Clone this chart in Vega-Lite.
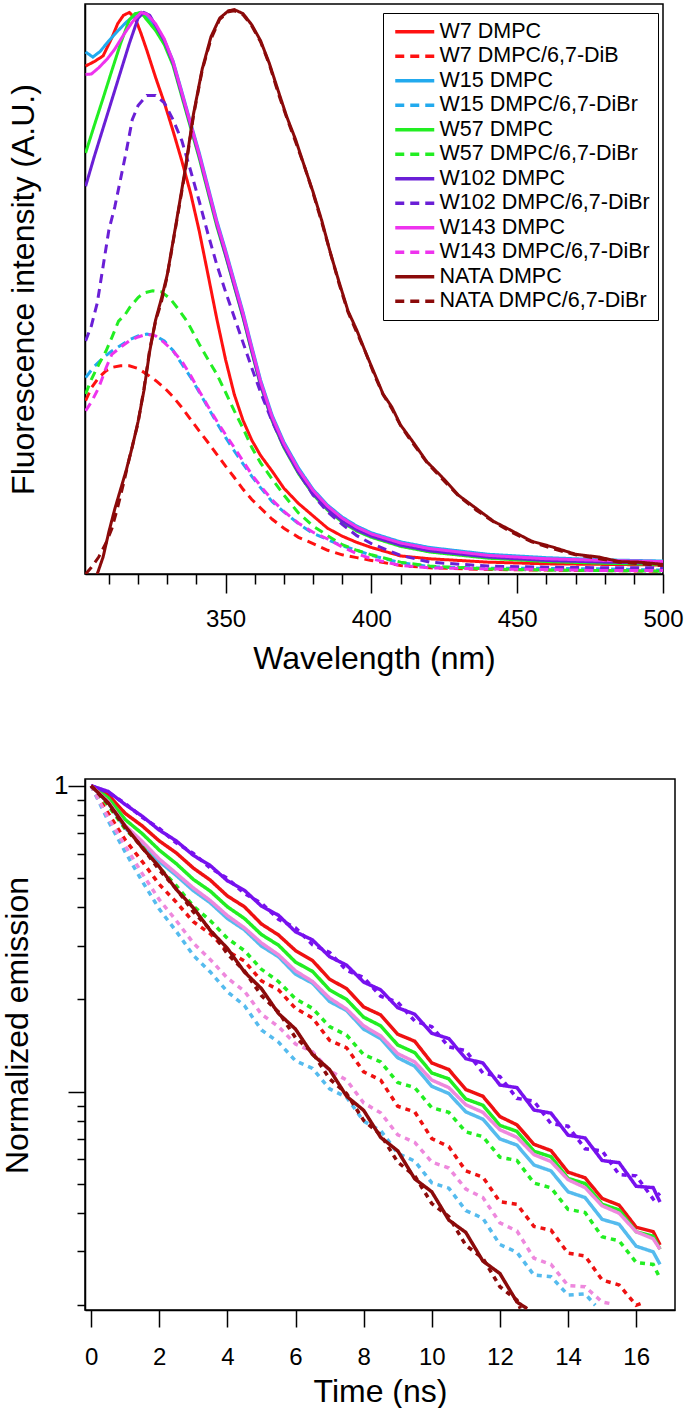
{
"$schema": "https://vega.github.io/schema/vega-lite/v6.json",
"background": "white",
"padding": {"left": 0, "top": 3, "right": 5, "bottom": 2},
"spacing": 96,
"resolve": {"scale": {"color": "independent", "strokeDash": "independent"}},
"config": {
  "font": "Liberation Sans",
  "view": {"stroke": "black", "strokeWidth": 1.5},
  "axis": {"domainColor": "black", "domainWidth": 1.5, "tickColor": "black", "tickWidth": 1.5, "labelColor": "black", "titleColor": "black", "titleFontWeight": "normal", "labelFont": "Liberation Sans", "titleFont": "Liberation Sans", "grid": false, "labelFlush": false, "labelOverlap": false},
  "legend": {"labelFont": "Liberation Sans", "labelColor": "black"}
},
"datasets": {
"spec": [
{"s":"W7 DMPC","x":302,"y":0.9},{"s":"W7 DMPC","x":305,"y":0.908},{"s":"W7 DMPC","x":308,"y":0.918},{"s":"W7 DMPC","x":311,"y":0.95},{"s":"W7 DMPC","x":313,"y":0.975},{"s":"W7 DMPC","x":315,"y":0.99},{"s":"W7 DMPC","x":317,"y":0.995},{"s":"W7 DMPC","x":319,"y":0.985},{"s":"W7 DMPC","x":321,"y":0.958},{"s":"W7 DMPC","x":323,"y":0.928},{"s":"W7 DMPC","x":326,"y":0.88},{"s":"W7 DMPC","x":329,"y":0.835},{"s":"W7 DMPC","x":332,"y":0.785},{"s":"W7 DMPC","x":335,"y":0.732},{"s":"W7 DMPC","x":338,"y":0.675},{"s":"W7 DMPC","x":341,"y":0.607},{"s":"W7 DMPC","x":344,"y":0.53},{"s":"W7 DMPC","x":347,"y":0.452},{"s":"W7 DMPC","x":350,"y":0.38},{"s":"W7 DMPC","x":353,"y":0.318},{"s":"W7 DMPC","x":356,"y":0.272},{"s":"W7 DMPC","x":359,"y":0.237},{"s":"W7 DMPC","x":362,"y":0.21},{"s":"W7 DMPC","x":366,"y":0.182},{"s":"W7 DMPC","x":370,"y":0.152},{"s":"W7 DMPC","x":375,"y":0.125},{"s":"W7 DMPC","x":380,"y":0.103},{"s":"W7 DMPC","x":385,"y":0.081},{"s":"W7 DMPC","x":390,"y":0.067},{"s":"W7 DMPC","x":395,"y":0.056},{"s":"W7 DMPC","x":400,"y":0.047},{"s":"W7 DMPC","x":410,"y":0.032},{"s":"W7 DMPC","x":420,"y":0.027},{"s":"W7 DMPC","x":440,"y":0.021},{"s":"W7 DMPC","x":460,"y":0.018},{"s":"W7 DMPC","x":480,"y":0.017},{"s":"W7 DMPC","x":500,"y":0.016},
{"s":"W7 DMPC/6,7-DiB","x":302,"y":0.307},{"s":"W7 DMPC/6,7-DiB","x":304,"y":0.33},{"s":"W7 DMPC/6,7-DiB","x":306.5,"y":0.348},{"s":"W7 DMPC/6,7-DiB","x":309,"y":0.36},{"s":"W7 DMPC/6,7-DiB","x":311,"y":0.366},{"s":"W7 DMPC/6,7-DiB","x":314,"y":0.369},{"s":"W7 DMPC/6,7-DiB","x":317,"y":0.369},{"s":"W7 DMPC/6,7-DiB","x":320,"y":0.364},{"s":"W7 DMPC/6,7-DiB","x":323,"y":0.354},{"s":"W7 DMPC/6,7-DiB","x":326,"y":0.343},{"s":"W7 DMPC/6,7-DiB","x":329,"y":0.33},{"s":"W7 DMPC/6,7-DiB","x":332,"y":0.314},{"s":"W7 DMPC/6,7-DiB","x":335,"y":0.295},{"s":"W7 DMPC/6,7-DiB","x":338,"y":0.274},{"s":"W7 DMPC/6,7-DiB","x":341,"y":0.253},{"s":"W7 DMPC/6,7-DiB","x":344,"y":0.233},{"s":"W7 DMPC/6,7-DiB","x":347,"y":0.212},{"s":"W7 DMPC/6,7-DiB","x":350,"y":0.191},{"s":"W7 DMPC/6,7-DiB","x":353,"y":0.171},{"s":"W7 DMPC/6,7-DiB","x":356,"y":0.15},{"s":"W7 DMPC/6,7-DiB","x":359,"y":0.132},{"s":"W7 DMPC/6,7-DiB","x":362,"y":0.117},{"s":"W7 DMPC/6,7-DiB","x":366,"y":0.097},{"s":"W7 DMPC/6,7-DiB","x":370,"y":0.081},{"s":"W7 DMPC/6,7-DiB","x":375,"y":0.065},{"s":"W7 DMPC/6,7-DiB","x":380,"y":0.054},{"s":"W7 DMPC/6,7-DiB","x":385,"y":0.042},{"s":"W7 DMPC/6,7-DiB","x":390,"y":0.034},{"s":"W7 DMPC/6,7-DiB","x":395,"y":0.029},{"s":"W7 DMPC/6,7-DiB","x":400,"y":0.024},{"s":"W7 DMPC/6,7-DiB","x":410,"y":0.015},{"s":"W7 DMPC/6,7-DiB","x":420,"y":0.011},{"s":"W7 DMPC/6,7-DiB","x":440,"y":0.008},{"s":"W7 DMPC/6,7-DiB","x":460,"y":0.007},{"s":"W7 DMPC/6,7-DiB","x":480,"y":0.006},{"s":"W7 DMPC/6,7-DiB","x":500,"y":0.005},
{"s":"W15 DMPC","x":302,"y":0.925},{"s":"W15 DMPC","x":304.5,"y":0.916},{"s":"W15 DMPC","x":307,"y":0.926},{"s":"W15 DMPC","x":310,"y":0.945},{"s":"W15 DMPC","x":313,"y":0.962},{"s":"W15 DMPC","x":316,"y":0.978},{"s":"W15 DMPC","x":319,"y":0.991},{"s":"W15 DMPC","x":321,"y":0.995},{"s":"W15 DMPC","x":323,"y":0.988},{"s":"W15 DMPC","x":326,"y":0.97},{"s":"W15 DMPC","x":329,"y":0.946},{"s":"W15 DMPC","x":332,"y":0.909},{"s":"W15 DMPC","x":335,"y":0.855},{"s":"W15 DMPC","x":338,"y":0.8},{"s":"W15 DMPC","x":341,"y":0.746},{"s":"W15 DMPC","x":344,"y":0.686},{"s":"W15 DMPC","x":347,"y":0.626},{"s":"W15 DMPC","x":350,"y":0.574},{"s":"W15 DMPC","x":353,"y":0.519},{"s":"W15 DMPC","x":356,"y":0.464},{"s":"W15 DMPC","x":359,"y":0.403},{"s":"W15 DMPC","x":362,"y":0.344},{"s":"W15 DMPC","x":366,"y":0.281},{"s":"W15 DMPC","x":370,"y":0.234},{"s":"W15 DMPC","x":375,"y":0.188},{"s":"W15 DMPC","x":380,"y":0.15},{"s":"W15 DMPC","x":385,"y":0.122},{"s":"W15 DMPC","x":390,"y":0.101},{"s":"W15 DMPC","x":395,"y":0.085},{"s":"W15 DMPC","x":400,"y":0.073},{"s":"W15 DMPC","x":410,"y":0.057},{"s":"W15 DMPC","x":420,"y":0.047},{"s":"W15 DMPC","x":440,"y":0.035},{"s":"W15 DMPC","x":460,"y":0.029},{"s":"W15 DMPC","x":480,"y":0.025},{"s":"W15 DMPC","x":500,"y":0.023},
{"s":"W15 DMPC/6,7-DiBr","x":302,"y":0.348},{"s":"W15 DMPC/6,7-DiBr","x":305,"y":0.368},{"s":"W15 DMPC/6,7-DiBr","x":308,"y":0.383},{"s":"W15 DMPC/6,7-DiBr","x":311,"y":0.395},{"s":"W15 DMPC/6,7-DiBr","x":314,"y":0.405},{"s":"W15 DMPC/6,7-DiBr","x":317,"y":0.415},{"s":"W15 DMPC/6,7-DiBr","x":320,"y":0.422},{"s":"W15 DMPC/6,7-DiBr","x":323,"y":0.425},{"s":"W15 DMPC/6,7-DiBr","x":326,"y":0.422},{"s":"W15 DMPC/6,7-DiBr","x":329,"y":0.413},{"s":"W15 DMPC/6,7-DiBr","x":332,"y":0.396},{"s":"W15 DMPC/6,7-DiBr","x":335,"y":0.372},{"s":"W15 DMPC/6,7-DiBr","x":338,"y":0.349},{"s":"W15 DMPC/6,7-DiBr","x":341,"y":0.322},{"s":"W15 DMPC/6,7-DiBr","x":344,"y":0.295},{"s":"W15 DMPC/6,7-DiBr","x":347,"y":0.268},{"s":"W15 DMPC/6,7-DiBr","x":350,"y":0.242},{"s":"W15 DMPC/6,7-DiBr","x":353,"y":0.218},{"s":"W15 DMPC/6,7-DiBr","x":356,"y":0.195},{"s":"W15 DMPC/6,7-DiBr","x":359,"y":0.173},{"s":"W15 DMPC/6,7-DiBr","x":362,"y":0.153},{"s":"W15 DMPC/6,7-DiBr","x":366,"y":0.128},{"s":"W15 DMPC/6,7-DiBr","x":370,"y":0.11},{"s":"W15 DMPC/6,7-DiBr","x":375,"y":0.089},{"s":"W15 DMPC/6,7-DiBr","x":380,"y":0.072},{"s":"W15 DMPC/6,7-DiBr","x":385,"y":0.061},{"s":"W15 DMPC/6,7-DiBr","x":390,"y":0.05},{"s":"W15 DMPC/6,7-DiBr","x":395,"y":0.042},{"s":"W15 DMPC/6,7-DiBr","x":400,"y":0.033},{"s":"W15 DMPC/6,7-DiBr","x":410,"y":0.02},{"s":"W15 DMPC/6,7-DiBr","x":420,"y":0.013},{"s":"W15 DMPC/6,7-DiBr","x":440,"y":0.01},{"s":"W15 DMPC/6,7-DiBr","x":460,"y":0.01},{"s":"W15 DMPC/6,7-DiBr","x":480,"y":0.009},{"s":"W15 DMPC/6,7-DiBr","x":500,"y":0.007},
{"s":"W57 DMPC","x":302,"y":0.746},{"s":"W57 DMPC","x":305,"y":0.795},{"s":"W57 DMPC","x":308,"y":0.843},{"s":"W57 DMPC","x":311,"y":0.892},{"s":"W57 DMPC","x":314,"y":0.94},{"s":"W57 DMPC","x":317,"y":0.982},{"s":"W57 DMPC","x":319,"y":0.993},{"s":"W57 DMPC","x":321,"y":0.995},{"s":"W57 DMPC","x":323,"y":0.982},{"s":"W57 DMPC","x":326,"y":0.963},{"s":"W57 DMPC","x":329,"y":0.938},{"s":"W57 DMPC","x":332,"y":0.901},{"s":"W57 DMPC","x":335,"y":0.846},{"s":"W57 DMPC","x":338,"y":0.791},{"s":"W57 DMPC","x":341,"y":0.736},{"s":"W57 DMPC","x":344,"y":0.676},{"s":"W57 DMPC","x":347,"y":0.616},{"s":"W57 DMPC","x":350,"y":0.564},{"s":"W57 DMPC","x":353,"y":0.509},{"s":"W57 DMPC","x":356,"y":0.454},{"s":"W57 DMPC","x":359,"y":0.393},{"s":"W57 DMPC","x":362,"y":0.334},{"s":"W57 DMPC","x":366,"y":0.271},{"s":"W57 DMPC","x":370,"y":0.224},{"s":"W57 DMPC","x":375,"y":0.178},{"s":"W57 DMPC","x":380,"y":0.141},{"s":"W57 DMPC","x":385,"y":0.113},{"s":"W57 DMPC","x":390,"y":0.092},{"s":"W57 DMPC","x":395,"y":0.076},{"s":"W57 DMPC","x":400,"y":0.065},{"s":"W57 DMPC","x":410,"y":0.049},{"s":"W57 DMPC","x":420,"y":0.039},{"s":"W57 DMPC","x":440,"y":0.028},{"s":"W57 DMPC","x":460,"y":0.022},{"s":"W57 DMPC","x":480,"y":0.019},{"s":"W57 DMPC","x":500,"y":0.017},
{"s":"W57 DMPC/6,7-DiBr","x":302,"y":0.319},{"s":"W57 DMPC/6,7-DiBr","x":304,"y":0.345},{"s":"W57 DMPC/6,7-DiBr","x":306.5,"y":0.371},{"s":"W57 DMPC/6,7-DiBr","x":309,"y":0.395},{"s":"W57 DMPC/6,7-DiBr","x":311,"y":0.419},{"s":"W57 DMPC/6,7-DiBr","x":313.3,"y":0.448},{"s":"W57 DMPC/6,7-DiBr","x":315.6,"y":0.46},{"s":"W57 DMPC/6,7-DiBr","x":317.1,"y":0.472},{"s":"W57 DMPC/6,7-DiBr","x":320,"y":0.49},{"s":"W57 DMPC/6,7-DiBr","x":322,"y":0.498},{"s":"W57 DMPC/6,7-DiBr","x":325,"y":0.502},{"s":"W57 DMPC/6,7-DiBr","x":328,"y":0.5},{"s":"W57 DMPC/6,7-DiBr","x":331,"y":0.488},{"s":"W57 DMPC/6,7-DiBr","x":334,"y":0.468},{"s":"W57 DMPC/6,7-DiBr","x":337,"y":0.446},{"s":"W57 DMPC/6,7-DiBr","x":341,"y":0.407},{"s":"W57 DMPC/6,7-DiBr","x":344,"y":0.38},{"s":"W57 DMPC/6,7-DiBr","x":347,"y":0.354},{"s":"W57 DMPC/6,7-DiBr","x":350,"y":0.322},{"s":"W57 DMPC/6,7-DiBr","x":353,"y":0.289},{"s":"W57 DMPC/6,7-DiBr","x":356,"y":0.258},{"s":"W57 DMPC/6,7-DiBr","x":359,"y":0.224},{"s":"W57 DMPC/6,7-DiBr","x":362,"y":0.197},{"s":"W57 DMPC/6,7-DiBr","x":366,"y":0.168},{"s":"W57 DMPC/6,7-DiBr","x":370,"y":0.14},{"s":"W57 DMPC/6,7-DiBr","x":375,"y":0.108},{"s":"W57 DMPC/6,7-DiBr","x":380,"y":0.085},{"s":"W57 DMPC/6,7-DiBr","x":385,"y":0.068},{"s":"W57 DMPC/6,7-DiBr","x":390,"y":0.052},{"s":"W57 DMPC/6,7-DiBr","x":395,"y":0.042},{"s":"W57 DMPC/6,7-DiBr","x":400,"y":0.034},{"s":"W57 DMPC/6,7-DiBr","x":410,"y":0.021},{"s":"W57 DMPC/6,7-DiBr","x":420,"y":0.014},{"s":"W57 DMPC/6,7-DiBr","x":440,"y":0.009},{"s":"W57 DMPC/6,7-DiBr","x":460,"y":0.007},{"s":"W57 DMPC/6,7-DiBr","x":480,"y":0.006},{"s":"W57 DMPC/6,7-DiBr","x":500,"y":0.005},
{"s":"W102 DMPC","x":302,"y":0.687},{"s":"W102 DMPC","x":305,"y":0.74},{"s":"W102 DMPC","x":308,"y":0.79},{"s":"W102 DMPC","x":311,"y":0.84},{"s":"W102 DMPC","x":314,"y":0.89},{"s":"W102 DMPC","x":317,"y":0.94},{"s":"W102 DMPC","x":320,"y":0.985},{"s":"W102 DMPC","x":322,"y":0.995},{"s":"W102 DMPC","x":324,"y":0.99},{"s":"W102 DMPC","x":326,"y":0.972},{"s":"W102 DMPC","x":329,"y":0.945},{"s":"W102 DMPC","x":332,"y":0.905},{"s":"W102 DMPC","x":335,"y":0.85},{"s":"W102 DMPC","x":338,"y":0.795},{"s":"W102 DMPC","x":341,"y":0.74},{"s":"W102 DMPC","x":344,"y":0.68},{"s":"W102 DMPC","x":347,"y":0.62},{"s":"W102 DMPC","x":350,"y":0.566},{"s":"W102 DMPC","x":353,"y":0.511},{"s":"W102 DMPC","x":356,"y":0.456},{"s":"W102 DMPC","x":359,"y":0.395},{"s":"W102 DMPC","x":362,"y":0.336},{"s":"W102 DMPC","x":366,"y":0.273},{"s":"W102 DMPC","x":370,"y":0.226},{"s":"W102 DMPC","x":375,"y":0.18},{"s":"W102 DMPC","x":380,"y":0.143},{"s":"W102 DMPC","x":385,"y":0.115},{"s":"W102 DMPC","x":390,"y":0.094},{"s":"W102 DMPC","x":395,"y":0.078},{"s":"W102 DMPC","x":400,"y":0.067},{"s":"W102 DMPC","x":410,"y":0.051},{"s":"W102 DMPC","x":420,"y":0.041},{"s":"W102 DMPC","x":440,"y":0.03},{"s":"W102 DMPC","x":460,"y":0.024},{"s":"W102 DMPC","x":480,"y":0.021},{"s":"W102 DMPC","x":500,"y":0.019},
{"s":"W102 DMPC/6,7-DiBr","x":302,"y":0.413},{"s":"W102 DMPC/6,7-DiBr","x":304,"y":0.44},{"s":"W102 DMPC/6,7-DiBr","x":306,"y":0.48},{"s":"W102 DMPC/6,7-DiBr","x":308,"y":0.545},{"s":"W102 DMPC/6,7-DiBr","x":310,"y":0.61},{"s":"W102 DMPC/6,7-DiBr","x":312,"y":0.65},{"s":"W102 DMPC/6,7-DiBr","x":314,"y":0.7},{"s":"W102 DMPC/6,7-DiBr","x":316,"y":0.75},{"s":"W102 DMPC/6,7-DiBr","x":318,"y":0.805},{"s":"W102 DMPC/6,7-DiBr","x":320,"y":0.83},{"s":"W102 DMPC/6,7-DiBr","x":323,"y":0.848},{"s":"W102 DMPC/6,7-DiBr","x":326,"y":0.848},{"s":"W102 DMPC/6,7-DiBr","x":329,"y":0.835},{"s":"W102 DMPC/6,7-DiBr","x":332,"y":0.805},{"s":"W102 DMPC/6,7-DiBr","x":335,"y":0.768},{"s":"W102 DMPC/6,7-DiBr","x":338,"y":0.715},{"s":"W102 DMPC/6,7-DiBr","x":341,"y":0.66},{"s":"W102 DMPC/6,7-DiBr","x":344,"y":0.602},{"s":"W102 DMPC/6,7-DiBr","x":347,"y":0.548},{"s":"W102 DMPC/6,7-DiBr","x":350,"y":0.5},{"s":"W102 DMPC/6,7-DiBr","x":353,"y":0.455},{"s":"W102 DMPC/6,7-DiBr","x":356,"y":0.41},{"s":"W102 DMPC/6,7-DiBr","x":359,"y":0.365},{"s":"W102 DMPC/6,7-DiBr","x":362,"y":0.322},{"s":"W102 DMPC/6,7-DiBr","x":366,"y":0.27},{"s":"W102 DMPC/6,7-DiBr","x":370,"y":0.226},{"s":"W102 DMPC/6,7-DiBr","x":375,"y":0.18},{"s":"W102 DMPC/6,7-DiBr","x":380,"y":0.14},{"s":"W102 DMPC/6,7-DiBr","x":385,"y":0.11},{"s":"W102 DMPC/6,7-DiBr","x":390,"y":0.088},{"s":"W102 DMPC/6,7-DiBr","x":395,"y":0.068},{"s":"W102 DMPC/6,7-DiBr","x":400,"y":0.054},{"s":"W102 DMPC/6,7-DiBr","x":410,"y":0.033},{"s":"W102 DMPC/6,7-DiBr","x":420,"y":0.021},{"s":"W102 DMPC/6,7-DiBr","x":440,"y":0.014},{"s":"W102 DMPC/6,7-DiBr","x":460,"y":0.012},{"s":"W102 DMPC/6,7-DiBr","x":480,"y":0.011},{"s":"W102 DMPC/6,7-DiBr","x":500,"y":0.011},
{"s":"W143 DMPC","x":302,"y":0.885},{"s":"W143 DMPC","x":304,"y":0.886},{"s":"W143 DMPC","x":306.5,"y":0.897},{"s":"W143 DMPC","x":309.5,"y":0.913},{"s":"W143 DMPC","x":312,"y":0.93},{"s":"W143 DMPC","x":315,"y":0.955},{"s":"W143 DMPC","x":318,"y":0.978},{"s":"W143 DMPC","x":321,"y":0.995},{"s":"W143 DMPC","x":323,"y":0.992},{"s":"W143 DMPC","x":326,"y":0.975},{"s":"W143 DMPC","x":329,"y":0.948},{"s":"W143 DMPC","x":332,"y":0.908},{"s":"W143 DMPC","x":335,"y":0.853},{"s":"W143 DMPC","x":338,"y":0.798},{"s":"W143 DMPC","x":341,"y":0.743},{"s":"W143 DMPC","x":344,"y":0.683},{"s":"W143 DMPC","x":347,"y":0.623},{"s":"W143 DMPC","x":350,"y":0.571},{"s":"W143 DMPC","x":353,"y":0.516},{"s":"W143 DMPC","x":356,"y":0.461},{"s":"W143 DMPC","x":359,"y":0.4},{"s":"W143 DMPC","x":362,"y":0.341},{"s":"W143 DMPC","x":366,"y":0.278},{"s":"W143 DMPC","x":370,"y":0.231},{"s":"W143 DMPC","x":375,"y":0.185},{"s":"W143 DMPC","x":380,"y":0.148},{"s":"W143 DMPC","x":385,"y":0.12},{"s":"W143 DMPC","x":390,"y":0.099},{"s":"W143 DMPC","x":395,"y":0.083},{"s":"W143 DMPC","x":400,"y":0.071},{"s":"W143 DMPC","x":410,"y":0.055},{"s":"W143 DMPC","x":420,"y":0.045},{"s":"W143 DMPC","x":440,"y":0.033},{"s":"W143 DMPC","x":460,"y":0.027},{"s":"W143 DMPC","x":480,"y":0.024},{"s":"W143 DMPC","x":500,"y":0.022},
{"s":"W143 DMPC/6,7-DiBr","x":302,"y":0.289},{"s":"W143 DMPC/6,7-DiBr","x":304,"y":0.305},{"s":"W143 DMPC/6,7-DiBr","x":306.5,"y":0.33},{"s":"W143 DMPC/6,7-DiBr","x":309,"y":0.365},{"s":"W143 DMPC/6,7-DiBr","x":311,"y":0.389},{"s":"W143 DMPC/6,7-DiBr","x":314,"y":0.402},{"s":"W143 DMPC/6,7-DiBr","x":317,"y":0.413},{"s":"W143 DMPC/6,7-DiBr","x":320,"y":0.42},{"s":"W143 DMPC/6,7-DiBr","x":323,"y":0.425},{"s":"W143 DMPC/6,7-DiBr","x":326,"y":0.422},{"s":"W143 DMPC/6,7-DiBr","x":329,"y":0.41},{"s":"W143 DMPC/6,7-DiBr","x":332,"y":0.395},{"s":"W143 DMPC/6,7-DiBr","x":335,"y":0.377},{"s":"W143 DMPC/6,7-DiBr","x":338,"y":0.352},{"s":"W143 DMPC/6,7-DiBr","x":341,"y":0.324},{"s":"W143 DMPC/6,7-DiBr","x":344,"y":0.297},{"s":"W143 DMPC/6,7-DiBr","x":347,"y":0.271},{"s":"W143 DMPC/6,7-DiBr","x":350,"y":0.247},{"s":"W143 DMPC/6,7-DiBr","x":353,"y":0.224},{"s":"W143 DMPC/6,7-DiBr","x":356,"y":0.2},{"s":"W143 DMPC/6,7-DiBr","x":359,"y":0.176},{"s":"W143 DMPC/6,7-DiBr","x":362,"y":0.156},{"s":"W143 DMPC/6,7-DiBr","x":366,"y":0.131},{"s":"W143 DMPC/6,7-DiBr","x":370,"y":0.111},{"s":"W143 DMPC/6,7-DiBr","x":375,"y":0.09},{"s":"W143 DMPC/6,7-DiBr","x":380,"y":0.074},{"s":"W143 DMPC/6,7-DiBr","x":385,"y":0.062},{"s":"W143 DMPC/6,7-DiBr","x":390,"y":0.048},{"s":"W143 DMPC/6,7-DiBr","x":395,"y":0.036},{"s":"W143 DMPC/6,7-DiBr","x":400,"y":0.027},{"s":"W143 DMPC/6,7-DiBr","x":410,"y":0.015},{"s":"W143 DMPC/6,7-DiBr","x":420,"y":0.011},{"s":"W143 DMPC/6,7-DiBr","x":440,"y":0.009},{"s":"W143 DMPC/6,7-DiBr","x":460,"y":0.008},{"s":"W143 DMPC/6,7-DiBr","x":480,"y":0.006},{"s":"W143 DMPC/6,7-DiBr","x":500,"y":0.006},
{"s":"NATA DMPC","x":306,"y":0.0},{"s":"NATA DMPC","x":308,"y":0.03},{"s":"NATA DMPC","x":310,"y":0.075},{"s":"NATA DMPC","x":312,"y":0.115},{"s":"NATA DMPC","x":314,"y":0.15},{"s":"NATA DMPC","x":316,"y":0.185},{"s":"NATA DMPC","x":318,"y":0.225},{"s":"NATA DMPC","x":320,"y":0.27},{"s":"NATA DMPC","x":322,"y":0.325},{"s":"NATA DMPC","x":324,"y":0.395},{"s":"NATA DMPC","x":326,"y":0.45},{"s":"NATA DMPC","x":328,"y":0.488},{"s":"NATA DMPC","x":330,"y":0.53},{"s":"NATA DMPC","x":333,"y":0.62},{"s":"NATA DMPC","x":336,"y":0.712},{"s":"NATA DMPC","x":339,"y":0.815},{"s":"NATA DMPC","x":342,"y":0.895},{"s":"NATA DMPC","x":345,"y":0.952},{"s":"NATA DMPC","x":348,"y":0.985},{"s":"NATA DMPC","x":351,"y":0.998},{"s":"NATA DMPC","x":353,"y":1.0},{"s":"NATA DMPC","x":356,"y":0.993},{"s":"NATA DMPC","x":359,"y":0.973},{"s":"NATA DMPC","x":362,"y":0.945},{"s":"NATA DMPC","x":365,"y":0.905},{"s":"NATA DMPC","x":368,"y":0.857},{"s":"NATA DMPC","x":371,"y":0.81},{"s":"NATA DMPC","x":374,"y":0.77},{"s":"NATA DMPC","x":377,"y":0.723},{"s":"NATA DMPC","x":380,"y":0.677},{"s":"NATA DMPC","x":383,"y":0.626},{"s":"NATA DMPC","x":386,"y":0.568},{"s":"NATA DMPC","x":389,"y":0.516},{"s":"NATA DMPC","x":392,"y":0.466},{"s":"NATA DMPC","x":395,"y":0.432},{"s":"NATA DMPC","x":398,"y":0.393},{"s":"NATA DMPC","x":401,"y":0.356},{"s":"NATA DMPC","x":404,"y":0.319},{"s":"NATA DMPC","x":407,"y":0.296},{"s":"NATA DMPC","x":410,"y":0.264},{"s":"NATA DMPC","x":414,"y":0.236},{"s":"NATA DMPC","x":419,"y":0.199},{"s":"NATA DMPC","x":424,"y":0.173},{"s":"NATA DMPC","x":430,"y":0.139},{"s":"NATA DMPC","x":436,"y":0.116},{"s":"NATA DMPC","x":442,"y":0.093},{"s":"NATA DMPC","x":448,"y":0.077},{"s":"NATA DMPC","x":455,"y":0.058},{"s":"NATA DMPC","x":462,"y":0.048},{"s":"NATA DMPC","x":470,"y":0.035},{"s":"NATA DMPC","x":478,"y":0.03},{"s":"NATA DMPC","x":485,"y":0.022},{"s":"NATA DMPC","x":492,"y":0.021},{"s":"NATA DMPC","x":500,"y":0.017},
{"s":"NATA DMPC/6,7-DiBr","x":302,"y":0.0},{"s":"NATA DMPC/6,7-DiBr","x":304,"y":0.012},{"s":"NATA DMPC/6,7-DiBr","x":306.5,"y":0.03},{"s":"NATA DMPC/6,7-DiBr","x":309,"y":0.055},{"s":"NATA DMPC/6,7-DiBr","x":311,"y":0.08},{"s":"NATA DMPC/6,7-DiBr","x":313,"y":0.118},{"s":"NATA DMPC/6,7-DiBr","x":315,"y":0.16},{"s":"NATA DMPC/6,7-DiBr","x":317,"y":0.205},{"s":"NATA DMPC/6,7-DiBr","x":320,"y":0.268},{"s":"NATA DMPC/6,7-DiBr","x":322,"y":0.328},{"s":"NATA DMPC/6,7-DiBr","x":324,"y":0.398},{"s":"NATA DMPC/6,7-DiBr","x":326,"y":0.448},{"s":"NATA DMPC/6,7-DiBr","x":328,"y":0.482},{"s":"NATA DMPC/6,7-DiBr","x":330,"y":0.528},{"s":"NATA DMPC/6,7-DiBr","x":333,"y":0.618},{"s":"NATA DMPC/6,7-DiBr","x":336,"y":0.708},{"s":"NATA DMPC/6,7-DiBr","x":339,"y":0.812},{"s":"NATA DMPC/6,7-DiBr","x":342,"y":0.893},{"s":"NATA DMPC/6,7-DiBr","x":345,"y":0.948},{"s":"NATA DMPC/6,7-DiBr","x":348,"y":0.983},{"s":"NATA DMPC/6,7-DiBr","x":351,"y":0.996},{"s":"NATA DMPC/6,7-DiBr","x":353,"y":0.998},{"s":"NATA DMPC/6,7-DiBr","x":356,"y":0.991},{"s":"NATA DMPC/6,7-DiBr","x":359,"y":0.971},{"s":"NATA DMPC/6,7-DiBr","x":362,"y":0.943},{"s":"NATA DMPC/6,7-DiBr","x":365,"y":0.903},{"s":"NATA DMPC/6,7-DiBr","x":368,"y":0.853},{"s":"NATA DMPC/6,7-DiBr","x":371,"y":0.808},{"s":"NATA DMPC/6,7-DiBr","x":374,"y":0.766},{"s":"NATA DMPC/6,7-DiBr","x":377,"y":0.723},{"s":"NATA DMPC/6,7-DiBr","x":380,"y":0.675},{"s":"NATA DMPC/6,7-DiBr","x":383,"y":0.623},{"s":"NATA DMPC/6,7-DiBr","x":386,"y":0.568},{"s":"NATA DMPC/6,7-DiBr","x":389,"y":0.513},{"s":"NATA DMPC/6,7-DiBr","x":392,"y":0.464},{"s":"NATA DMPC/6,7-DiBr","x":395,"y":0.428},{"s":"NATA DMPC/6,7-DiBr","x":398,"y":0.393},{"s":"NATA DMPC/6,7-DiBr","x":401,"y":0.353},{"s":"NATA DMPC/6,7-DiBr","x":404,"y":0.318},{"s":"NATA DMPC/6,7-DiBr","x":407,"y":0.293},{"s":"NATA DMPC/6,7-DiBr","x":410,"y":0.263},{"s":"NATA DMPC/6,7-DiBr","x":414,"y":0.233},{"s":"NATA DMPC/6,7-DiBr","x":419,"y":0.198},{"s":"NATA DMPC/6,7-DiBr","x":424,"y":0.17},{"s":"NATA DMPC/6,7-DiBr","x":430,"y":0.138},{"s":"NATA DMPC/6,7-DiBr","x":436,"y":0.113},{"s":"NATA DMPC/6,7-DiBr","x":442,"y":0.092},{"s":"NATA DMPC/6,7-DiBr","x":448,"y":0.074},{"s":"NATA DMPC/6,7-DiBr","x":455,"y":0.057},{"s":"NATA DMPC/6,7-DiBr","x":462,"y":0.045},{"s":"NATA DMPC/6,7-DiBr","x":470,"y":0.034},{"s":"NATA DMPC/6,7-DiBr","x":478,"y":0.027},{"s":"NATA DMPC/6,7-DiBr","x":485,"y":0.021},{"s":"NATA DMPC/6,7-DiBr","x":492,"y":0.018},{"s":"NATA DMPC/6,7-DiBr","x":500,"y":0.015}
],
"decay": [
{"s":"W7 DMPC","t":0,"v":1},{"s":"W7 DMPC","t":0.5,"v":0.934},{"s":"W7 DMPC","t":1,"v":0.812},{"s":"W7 DMPC","t":1.5,"v":0.739},{"s":"W7 DMPC","t":2,"v":0.66},{"s":"W7 DMPC","t":2.5,"v":0.603},{"s":"W7 DMPC","t":3,"v":0.538},{"s":"W7 DMPC","t":3.5,"v":0.491},{"s":"W7 DMPC","t":4,"v":0.436},{"s":"W7 DMPC","t":4.5,"v":0.402},{"s":"W7 DMPC","t":5,"v":0.353},{"s":"W7 DMPC","t":5.5,"v":0.325},{"s":"W7 DMPC","t":6,"v":0.289},{"s":"W7 DMPC","t":6.5,"v":0.268},{"s":"W7 DMPC","t":7,"v":0.233},{"s":"W7 DMPC","t":7.5,"v":0.217},{"s":"W7 DMPC","t":8,"v":0.189},{"s":"W7 DMPC","t":8.5,"v":0.178},{"s":"W7 DMPC","t":9,"v":0.154},{"s":"W7 DMPC","t":9.5,"v":0.146},{"s":"W7 DMPC","t":10,"v":0.124},{"s":"W7 DMPC","t":10.5,"v":0.118},{"s":"W7 DMPC","t":11,"v":0.1015},{"s":"W7 DMPC","t":11.5,"v":0.0965},{"s":"W7 DMPC","t":12,"v":0.0828},{"s":"W7 DMPC","t":12.5,"v":0.0778},{"s":"W7 DMPC","t":13,"v":0.0672},{"s":"W7 DMPC","t":13.5,"v":0.0641},{"s":"W7 DMPC","t":14,"v":0.0545},{"s":"W7 DMPC","t":14.5,"v":0.0522},{"s":"W7 DMPC","t":15,"v":0.0447},{"s":"W7 DMPC","t":15.5,"v":0.0425},{"s":"W7 DMPC","t":16,"v":0.036},{"s":"W7 DMPC","t":16.5,"v":0.0348},{"s":"W7 DMPC","t":16.7,"v":0.0315},
{"s":"W7 DMPC/6,7-DiB","t":0,"v":1},{"s":"W7 DMPC/6,7-DiB","t":0.5,"v":0.814},{"s":"W7 DMPC/6,7-DiB","t":1,"v":0.665},{"s":"W7 DMPC/6,7-DiB","t":1.5,"v":0.565},{"s":"W7 DMPC/6,7-DiB","t":2,"v":0.476},{"s":"W7 DMPC/6,7-DiB","t":2.5,"v":0.416},{"s":"W7 DMPC/6,7-DiB","t":3,"v":0.359},{"s":"W7 DMPC/6,7-DiB","t":3.5,"v":0.328},{"s":"W7 DMPC/6,7-DiB","t":4,"v":0.288},{"s":"W7 DMPC/6,7-DiB","t":4.5,"v":0.267},{"s":"W7 DMPC/6,7-DiB","t":5,"v":0.23},{"s":"W7 DMPC/6,7-DiB","t":5.5,"v":0.215},{"s":"W7 DMPC/6,7-DiB","t":6,"v":0.187},{"s":"W7 DMPC/6,7-DiB","t":6.5,"v":0.174},{"s":"W7 DMPC/6,7-DiB","t":7,"v":0.147},{"s":"W7 DMPC/6,7-DiB","t":7.5,"v":0.139},{"s":"W7 DMPC/6,7-DiB","t":8,"v":0.116},{"s":"W7 DMPC/6,7-DiB","t":8.5,"v":0.109},{"s":"W7 DMPC/6,7-DiB","t":9,"v":0.0895},{"s":"W7 DMPC/6,7-DiB","t":9.5,"v":0.0858},{"s":"W7 DMPC/6,7-DiB","t":10,"v":0.0702},{"s":"W7 DMPC/6,7-DiB","t":10.5,"v":0.066},{"s":"W7 DMPC/6,7-DiB","t":11,"v":0.055},{"s":"W7 DMPC/6,7-DiB","t":11.5,"v":0.0525},{"s":"W7 DMPC/6,7-DiB","t":12,"v":0.0436},{"s":"W7 DMPC/6,7-DiB","t":12.5,"v":0.0428},{"s":"W7 DMPC/6,7-DiB","t":13,"v":0.0362},{"s":"W7 DMPC/6,7-DiB","t":13.5,"v":0.0352},{"s":"W7 DMPC/6,7-DiB","t":14,"v":0.0296},{"s":"W7 DMPC/6,7-DiB","t":14.5,"v":0.029},{"s":"W7 DMPC/6,7-DiB","t":15,"v":0.0242},{"s":"W7 DMPC/6,7-DiB","t":15.5,"v":0.0233},{"s":"W7 DMPC/6,7-DiB","t":16,"v":0.02},{"s":"W7 DMPC/6,7-DiB","t":16.2,"v":0.0204},
{"s":"W15 DMPC","t":0,"v":1},{"s":"W15 DMPC","t":0.5,"v":0.88},{"s":"W15 DMPC","t":1,"v":0.727},{"s":"W15 DMPC","t":1.5,"v":0.645},{"s":"W15 DMPC","t":2,"v":0.565},{"s":"W15 DMPC","t":2.5,"v":0.509},{"s":"W15 DMPC","t":3,"v":0.454},{"s":"W15 DMPC","t":3.5,"v":0.414},{"s":"W15 DMPC","t":4,"v":0.368},{"s":"W15 DMPC","t":4.5,"v":0.338},{"s":"W15 DMPC","t":5,"v":0.299},{"s":"W15 DMPC","t":5.5,"v":0.276},{"s":"W15 DMPC","t":6,"v":0.242},{"s":"W15 DMPC","t":6.5,"v":0.226},{"s":"W15 DMPC","t":7,"v":0.197},{"s":"W15 DMPC","t":7.5,"v":0.184},{"s":"W15 DMPC","t":8,"v":0.16},{"s":"W15 DMPC","t":8.5,"v":0.149},{"s":"W15 DMPC","t":9,"v":0.129},{"s":"W15 DMPC","t":9.5,"v":0.121},{"s":"W15 DMPC","t":10,"v":0.104},{"s":"W15 DMPC","t":10.5,"v":0.0985},{"s":"W15 DMPC","t":11,"v":0.0858},{"s":"W15 DMPC","t":11.5,"v":0.0812},{"s":"W15 DMPC","t":12,"v":0.07},{"s":"W15 DMPC","t":12.5,"v":0.0668},{"s":"W15 DMPC","t":13,"v":0.0575},{"s":"W15 DMPC","t":13.5,"v":0.055},{"s":"W15 DMPC","t":14,"v":0.047},{"s":"W15 DMPC","t":14.5,"v":0.045},{"s":"W15 DMPC","t":15,"v":0.0382},{"s":"W15 DMPC","t":15.5,"v":0.0368},{"s":"W15 DMPC","t":16,"v":0.0312},{"s":"W15 DMPC","t":16.5,"v":0.0299},{"s":"W15 DMPC","t":16.7,"v":0.0272},
{"s":"W15 DMPC/6,7-DiBr","t":0,"v":1},{"s":"W15 DMPC/6,7-DiBr","t":0.5,"v":0.768},{"s":"W15 DMPC/6,7-DiBr","t":1,"v":0.607},{"s":"W15 DMPC/6,7-DiBr","t":1.5,"v":0.487},{"s":"W15 DMPC/6,7-DiBr","t":2,"v":0.395},{"s":"W15 DMPC/6,7-DiBr","t":2.5,"v":0.334},{"s":"W15 DMPC/6,7-DiBr","t":3,"v":0.279},{"s":"W15 DMPC/6,7-DiBr","t":3.5,"v":0.246},{"s":"W15 DMPC/6,7-DiBr","t":4,"v":0.212},{"s":"W15 DMPC/6,7-DiBr","t":4.5,"v":0.191},{"s":"W15 DMPC/6,7-DiBr","t":5,"v":0.159},{"s":"W15 DMPC/6,7-DiBr","t":5.5,"v":0.145},{"s":"W15 DMPC/6,7-DiBr","t":6,"v":0.126},{"s":"W15 DMPC/6,7-DiBr","t":6.5,"v":0.119},{"s":"W15 DMPC/6,7-DiBr","t":7,"v":0.102},{"s":"W15 DMPC/6,7-DiBr","t":7.5,"v":0.0958},{"s":"W15 DMPC/6,7-DiBr","t":8,"v":0.08},{"s":"W15 DMPC/6,7-DiBr","t":8.5,"v":0.0745},{"s":"W15 DMPC/6,7-DiBr","t":9,"v":0.0628},{"s":"W15 DMPC/6,7-DiBr","t":9.5,"v":0.0592},{"s":"W15 DMPC/6,7-DiBr","t":10,"v":0.0503},{"s":"W15 DMPC/6,7-DiBr","t":10.5,"v":0.0483},{"s":"W15 DMPC/6,7-DiBr","t":11,"v":0.0408},{"s":"W15 DMPC/6,7-DiBr","t":11.5,"v":0.0385},{"s":"W15 DMPC/6,7-DiBr","t":12,"v":0.0316},{"s":"W15 DMPC/6,7-DiBr","t":12.5,"v":0.0298},{"s":"W15 DMPC/6,7-DiBr","t":13,"v":0.0251},{"s":"W15 DMPC/6,7-DiBr","t":13.5,"v":0.0248},{"s":"W15 DMPC/6,7-DiBr","t":14,"v":0.0216},{"s":"W15 DMPC/6,7-DiBr","t":14.5,"v":0.0218},{"s":"W15 DMPC/6,7-DiBr","t":14.8,"v":0.02},
{"s":"W57 DMPC","t":0,"v":1},{"s":"W57 DMPC","t":0.5,"v":0.913},{"s":"W57 DMPC","t":1,"v":0.775},{"s":"W57 DMPC","t":1.5,"v":0.697},{"s":"W57 DMPC","t":2,"v":0.616},{"s":"W57 DMPC","t":2.5,"v":0.556},{"s":"W57 DMPC","t":3,"v":0.494},{"s":"W57 DMPC","t":3.5,"v":0.452},{"s":"W57 DMPC","t":4,"v":0.402},{"s":"W57 DMPC","t":4.5,"v":0.368},{"s":"W57 DMPC","t":5,"v":0.326},{"s":"W57 DMPC","t":5.5,"v":0.301},{"s":"W57 DMPC","t":6,"v":0.265},{"s":"W57 DMPC","t":6.5,"v":0.247},{"s":"W57 DMPC","t":7,"v":0.215},{"s":"W57 DMPC","t":7.5,"v":0.2},{"s":"W57 DMPC","t":8,"v":0.175},{"s":"W57 DMPC","t":8.5,"v":0.164},{"s":"W57 DMPC","t":9,"v":0.142},{"s":"W57 DMPC","t":9.5,"v":0.134},{"s":"W57 DMPC","t":10,"v":0.115},{"s":"W57 DMPC","t":10.5,"v":0.11},{"s":"W57 DMPC","t":11,"v":0.0945},{"s":"W57 DMPC","t":11.5,"v":0.0902},{"s":"W57 DMPC","t":12,"v":0.0775},{"s":"W57 DMPC","t":12.5,"v":0.0741},{"s":"W57 DMPC","t":13,"v":0.0638},{"s":"W57 DMPC","t":13.5,"v":0.0612},{"s":"W57 DMPC","t":14,"v":0.052},{"s":"W57 DMPC","t":14.5,"v":0.05},{"s":"W57 DMPC","t":15,"v":0.0428},{"s":"W57 DMPC","t":15.5,"v":0.041},{"s":"W57 DMPC","t":16,"v":0.0348},{"s":"W57 DMPC","t":16.5,"v":0.0336},{"s":"W57 DMPC","t":16.7,"v":0.0305},
{"s":"W57 DMPC/6,7-DiBr","t":0,"v":1},{"s":"W57 DMPC/6,7-DiBr","t":0.5,"v":0.862},{"s":"W57 DMPC/6,7-DiBr","t":1,"v":0.722},{"s":"W57 DMPC/6,7-DiBr","t":1.5,"v":0.634},{"s":"W57 DMPC/6,7-DiBr","t":2,"v":0.54},{"s":"W57 DMPC/6,7-DiBr","t":2.5,"v":0.471},{"s":"W57 DMPC/6,7-DiBr","t":3,"v":0.404},{"s":"W57 DMPC/6,7-DiBr","t":3.5,"v":0.362},{"s":"W57 DMPC/6,7-DiBr","t":4,"v":0.317},{"s":"W57 DMPC/6,7-DiBr","t":4.5,"v":0.289},{"s":"W57 DMPC/6,7-DiBr","t":5,"v":0.251},{"s":"W57 DMPC/6,7-DiBr","t":5.5,"v":0.229},{"s":"W57 DMPC/6,7-DiBr","t":6,"v":0.201},{"s":"W57 DMPC/6,7-DiBr","t":6.5,"v":0.187},{"s":"W57 DMPC/6,7-DiBr","t":7,"v":0.163},{"s":"W57 DMPC/6,7-DiBr","t":7.5,"v":0.153},{"s":"W57 DMPC/6,7-DiBr","t":8,"v":0.132},{"s":"W57 DMPC/6,7-DiBr","t":8.5,"v":0.125},{"s":"W57 DMPC/6,7-DiBr","t":9,"v":0.107},{"s":"W57 DMPC/6,7-DiBr","t":9.5,"v":0.103},{"s":"W57 DMPC/6,7-DiBr","t":10,"v":0.0885},{"s":"W57 DMPC/6,7-DiBr","t":10.5,"v":0.0855},{"s":"W57 DMPC/6,7-DiBr","t":11,"v":0.0738},{"s":"W57 DMPC/6,7-DiBr","t":11.5,"v":0.0712},{"s":"W57 DMPC/6,7-DiBr","t":12,"v":0.061},{"s":"W57 DMPC/6,7-DiBr","t":12.5,"v":0.0595},{"s":"W57 DMPC/6,7-DiBr","t":13,"v":0.0502},{"s":"W57 DMPC/6,7-DiBr","t":13.5,"v":0.0484},{"s":"W57 DMPC/6,7-DiBr","t":14,"v":0.0412},{"s":"W57 DMPC/6,7-DiBr","t":14.5,"v":0.0402},{"s":"W57 DMPC/6,7-DiBr","t":15,"v":0.0335},{"s":"W57 DMPC/6,7-DiBr","t":15.5,"v":0.0325},{"s":"W57 DMPC/6,7-DiBr","t":16,"v":0.0276},{"s":"W57 DMPC/6,7-DiBr","t":16.5,"v":0.0272},{"s":"W57 DMPC/6,7-DiBr","t":16.7,"v":0.0245},
{"s":"W102 DMPC","t":0,"v":1},{"s":"W102 DMPC","t":0.5,"v":0.958},{"s":"W102 DMPC","t":1,"v":0.868},{"s":"W102 DMPC","t":1.5,"v":0.795},{"s":"W102 DMPC","t":2,"v":0.716},{"s":"W102 DMPC","t":2.5,"v":0.66},{"s":"W102 DMPC","t":3,"v":0.592},{"s":"W102 DMPC","t":3.5,"v":0.548},{"s":"W102 DMPC","t":4,"v":0.489},{"s":"W102 DMPC","t":4.5,"v":0.455},{"s":"W102 DMPC","t":5,"v":0.404},{"s":"W102 DMPC","t":5.5,"v":0.377},{"s":"W102 DMPC","t":6,"v":0.333},{"s":"W102 DMPC","t":6.5,"v":0.313},{"s":"W102 DMPC","t":7,"v":0.276},{"s":"W102 DMPC","t":7.5,"v":0.259},{"s":"W102 DMPC","t":8,"v":0.228},{"s":"W102 DMPC","t":8.5,"v":0.215},{"s":"W102 DMPC","t":9,"v":0.188},{"s":"W102 DMPC","t":9.5,"v":0.179},{"s":"W102 DMPC","t":10,"v":0.155},{"s":"W102 DMPC","t":10.5,"v":0.149},{"s":"W102 DMPC","t":11,"v":0.128},{"s":"W102 DMPC","t":11.5,"v":0.124},{"s":"W102 DMPC","t":12,"v":0.105},{"s":"W102 DMPC","t":12.5,"v":0.103},{"s":"W102 DMPC","t":13,"v":0.087},{"s":"W102 DMPC","t":13.5,"v":0.085},{"s":"W102 DMPC","t":14,"v":0.072},{"s":"W102 DMPC","t":14.5,"v":0.0705},{"s":"W102 DMPC","t":15,"v":0.0595},{"s":"W102 DMPC","t":15.5,"v":0.0585},{"s":"W102 DMPC","t":16,"v":0.049},{"s":"W102 DMPC","t":16.5,"v":0.0485},{"s":"W102 DMPC","t":16.7,"v":0.0435},
{"s":"W102 DMPC/6,7-DiBr","t":0,"v":1},{"s":"W102 DMPC/6,7-DiBr","t":0.5,"v":0.95},{"s":"W102 DMPC/6,7-DiBr","t":1,"v":0.875},{"s":"W102 DMPC/6,7-DiBr","t":1.5,"v":0.788},{"s":"W102 DMPC/6,7-DiBr","t":2,"v":0.725},{"s":"W102 DMPC/6,7-DiBr","t":2.5,"v":0.65},{"s":"W102 DMPC/6,7-DiBr","t":3,"v":0.601},{"s":"W102 DMPC/6,7-DiBr","t":3.5,"v":0.538},{"s":"W102 DMPC/6,7-DiBr","t":4,"v":0.498},{"s":"W102 DMPC/6,7-DiBr","t":4.5,"v":0.444},{"s":"W102 DMPC/6,7-DiBr","t":5,"v":0.413},{"s":"W102 DMPC/6,7-DiBr","t":5.5,"v":0.366},{"s":"W102 DMPC/6,7-DiBr","t":6,"v":0.343},{"s":"W102 DMPC/6,7-DiBr","t":6.5,"v":0.302},{"s":"W102 DMPC/6,7-DiBr","t":7,"v":0.285},{"s":"W102 DMPC/6,7-DiBr","t":7.5,"v":0.249},{"s":"W102 DMPC/6,7-DiBr","t":8,"v":0.236},{"s":"W102 DMPC/6,7-DiBr","t":8.5,"v":0.205},{"s":"W102 DMPC/6,7-DiBr","t":9,"v":0.196},{"s":"W102 DMPC/6,7-DiBr","t":9.5,"v":0.17},{"s":"W102 DMPC/6,7-DiBr","t":10,"v":0.163},{"s":"W102 DMPC/6,7-DiBr","t":10.5,"v":0.14},{"s":"W102 DMPC/6,7-DiBr","t":11,"v":0.136},{"s":"W102 DMPC/6,7-DiBr","t":11.5,"v":0.115},{"s":"W102 DMPC/6,7-DiBr","t":12,"v":0.112},{"s":"W102 DMPC/6,7-DiBr","t":12.5,"v":0.095},{"s":"W102 DMPC/6,7-DiBr","t":13,"v":0.093},{"s":"W102 DMPC/6,7-DiBr","t":13.5,"v":0.0785},{"s":"W102 DMPC/6,7-DiBr","t":14,"v":0.077},{"s":"W102 DMPC/6,7-DiBr","t":14.5,"v":0.065},{"s":"W102 DMPC/6,7-DiBr","t":15,"v":0.064},{"s":"W102 DMPC/6,7-DiBr","t":15.5,"v":0.0535},{"s":"W102 DMPC/6,7-DiBr","t":16,"v":0.053},{"s":"W102 DMPC/6,7-DiBr","t":16.5,"v":0.0445},{"s":"W102 DMPC/6,7-DiBr","t":16.7,"v":0.0465},
{"s":"W143 DMPC","t":0,"v":1},{"s":"W143 DMPC","t":0.5,"v":0.888},{"s":"W143 DMPC","t":1,"v":0.741},{"s":"W143 DMPC","t":1.5,"v":0.657},{"s":"W143 DMPC","t":2,"v":0.576},{"s":"W143 DMPC","t":2.5,"v":0.517},{"s":"W143 DMPC","t":3,"v":0.463},{"s":"W143 DMPC","t":3.5,"v":0.421},{"s":"W143 DMPC","t":4,"v":0.376},{"s":"W143 DMPC","t":4.5,"v":0.343},{"s":"W143 DMPC","t":5,"v":0.306},{"s":"W143 DMPC","t":5.5,"v":0.28},{"s":"W143 DMPC","t":6,"v":0.248},{"s":"W143 DMPC","t":6.5,"v":0.229},{"s":"W143 DMPC","t":7,"v":0.202},{"s":"W143 DMPC","t":7.5,"v":0.186},{"s":"W143 DMPC","t":8,"v":0.164},{"s":"W143 DMPC","t":8.5,"v":0.152},{"s":"W143 DMPC","t":9,"v":0.133},{"s":"W143 DMPC","t":9.5,"v":0.125},{"s":"W143 DMPC","t":10,"v":0.109},{"s":"W143 DMPC","t":10.5,"v":0.103},{"s":"W143 DMPC","t":11,"v":0.0905},{"s":"W143 DMPC","t":11.5,"v":0.0855},{"s":"W143 DMPC","t":12,"v":0.075},{"s":"W143 DMPC","t":12.5,"v":0.0708},{"s":"W143 DMPC","t":13,"v":0.0622},{"s":"W143 DMPC","t":13.5,"v":0.059},{"s":"W143 DMPC","t":14,"v":0.0515},{"s":"W143 DMPC","t":14.5,"v":0.0485},{"s":"W143 DMPC","t":15,"v":0.0423},{"s":"W143 DMPC","t":15.5,"v":0.04},{"s":"W143 DMPC","t":16,"v":0.0348},{"s":"W143 DMPC","t":16.5,"v":0.033},{"s":"W143 DMPC","t":16.7,"v":0.0305},
{"s":"W143 DMPC/6,7-DiBr","t":0,"v":1},{"s":"W143 DMPC/6,7-DiBr","t":0.5,"v":0.786},{"s":"W143 DMPC/6,7-DiBr","t":1,"v":0.636},{"s":"W143 DMPC/6,7-DiBr","t":1.5,"v":0.516},{"s":"W143 DMPC/6,7-DiBr","t":2,"v":0.424},{"s":"W143 DMPC/6,7-DiBr","t":2.5,"v":0.362},{"s":"W143 DMPC/6,7-DiBr","t":3,"v":0.306},{"s":"W143 DMPC/6,7-DiBr","t":3.5,"v":0.27},{"s":"W143 DMPC/6,7-DiBr","t":4,"v":0.235},{"s":"W143 DMPC/6,7-DiBr","t":4.5,"v":0.213},{"s":"W143 DMPC/6,7-DiBr","t":5,"v":0.179},{"s":"W143 DMPC/6,7-DiBr","t":5.5,"v":0.163},{"s":"W143 DMPC/6,7-DiBr","t":6,"v":0.143},{"s":"W143 DMPC/6,7-DiBr","t":6.5,"v":0.135},{"s":"W143 DMPC/6,7-DiBr","t":7,"v":0.117},{"s":"W143 DMPC/6,7-DiBr","t":7.5,"v":0.109},{"s":"W143 DMPC/6,7-DiBr","t":8,"v":0.0918},{"s":"W143 DMPC/6,7-DiBr","t":8.5,"v":0.0852},{"s":"W143 DMPC/6,7-DiBr","t":9,"v":0.0722},{"s":"W143 DMPC/6,7-DiBr","t":9.5,"v":0.0682},{"s":"W143 DMPC/6,7-DiBr","t":10,"v":0.0588},{"s":"W143 DMPC/6,7-DiBr","t":10.5,"v":0.0562},{"s":"W143 DMPC/6,7-DiBr","t":11,"v":0.048},{"s":"W143 DMPC/6,7-DiBr","t":11.5,"v":0.045},{"s":"W143 DMPC/6,7-DiBr","t":12,"v":0.0372},{"s":"W143 DMPC/6,7-DiBr","t":12.5,"v":0.035},{"s":"W143 DMPC/6,7-DiBr","t":13,"v":0.0285},{"s":"W143 DMPC/6,7-DiBr","t":13.5,"v":0.0272},{"s":"W143 DMPC/6,7-DiBr","t":14,"v":0.0232},{"s":"W143 DMPC/6,7-DiBr","t":14.5,"v":0.023},{"s":"W143 DMPC/6,7-DiBr","t":15,"v":0.0205},{"s":"W143 DMPC/6,7-DiBr","t":15.3,"v":0.0202},
{"s":"NATA DMPC","t":0,"v":1},{"s":"NATA DMPC","t":0.5,"v":0.88},{"s":"NATA DMPC","t":1,"v":0.737},{"s":"NATA DMPC","t":1.5,"v":0.627},{"s":"NATA DMPC","t":2,"v":0.543},{"s":"NATA DMPC","t":2.5,"v":0.458},{"s":"NATA DMPC","t":3,"v":0.399},{"s":"NATA DMPC","t":3.5,"v":0.336},{"s":"NATA DMPC","t":4,"v":0.294},{"s":"NATA DMPC","t":4.5,"v":0.246},{"s":"NATA DMPC","t":5,"v":0.217},{"s":"NATA DMPC","t":5.5,"v":0.18},{"s":"NATA DMPC","t":6,"v":0.16},{"s":"NATA DMPC","t":6.5,"v":0.132},{"s":"NATA DMPC","t":7,"v":0.118},{"s":"NATA DMPC","t":7.5,"v":0.0965},{"s":"NATA DMPC","t":8,"v":0.0868},{"s":"NATA DMPC","t":8.5,"v":0.0708},{"s":"NATA DMPC","t":9,"v":0.064},{"s":"NATA DMPC","t":9.5,"v":0.0518},{"s":"NATA DMPC","t":10,"v":0.047},{"s":"NATA DMPC","t":10.5,"v":0.038},{"s":"NATA DMPC","t":11,"v":0.0346},{"s":"NATA DMPC","t":11.5,"v":0.0279},{"s":"NATA DMPC","t":12,"v":0.0254},{"s":"NATA DMPC","t":12.5,"v":0.0205},{"s":"NATA DMPC","t":12.8,"v":0.0195},
{"s":"NATA DMPC/6,7-DiBr","t":0,"v":1},{"s":"NATA DMPC/6,7-DiBr","t":0.5,"v":0.872},{"s":"NATA DMPC/6,7-DiBr","t":1,"v":0.729},{"s":"NATA DMPC/6,7-DiBr","t":1.5,"v":0.628},{"s":"NATA DMPC/6,7-DiBr","t":2,"v":0.531},{"s":"NATA DMPC/6,7-DiBr","t":2.5,"v":0.46},{"s":"NATA DMPC/6,7-DiBr","t":3,"v":0.387},{"s":"NATA DMPC/6,7-DiBr","t":3.5,"v":0.338},{"s":"NATA DMPC/6,7-DiBr","t":4,"v":0.282},{"s":"NATA DMPC/6,7-DiBr","t":4.5,"v":0.248},{"s":"NATA DMPC/6,7-DiBr","t":5,"v":0.206},{"s":"NATA DMPC/6,7-DiBr","t":5.5,"v":0.182},{"s":"NATA DMPC/6,7-DiBr","t":6,"v":0.15},{"s":"NATA DMPC/6,7-DiBr","t":6.5,"v":0.134},{"s":"NATA DMPC/6,7-DiBr","t":7,"v":0.11},{"s":"NATA DMPC/6,7-DiBr","t":7.5,"v":0.0985},{"s":"NATA DMPC/6,7-DiBr","t":8,"v":0.0805},{"s":"NATA DMPC/6,7-DiBr","t":8.5,"v":0.0722},{"s":"NATA DMPC/6,7-DiBr","t":9,"v":0.0588},{"s":"NATA DMPC/6,7-DiBr","t":9.5,"v":0.053},{"s":"NATA DMPC/6,7-DiBr","t":10,"v":0.043},{"s":"NATA DMPC/6,7-DiBr","t":10.5,"v":0.039},{"s":"NATA DMPC/6,7-DiBr","t":11,"v":0.0314},{"s":"NATA DMPC/6,7-DiBr","t":11.5,"v":0.0285},{"s":"NATA DMPC/6,7-DiBr","t":12,"v":0.023},{"s":"NATA DMPC/6,7-DiBr","t":12.5,"v":0.0208},{"s":"NATA DMPC/6,7-DiBr","t":12.6,"v":0.0195}
]
},
"vconcat": [
{
  "width": 578, "height": 570,
  "data": {"name": "spec"},
  "resolve": {"axis": {"x": "independent"}},
  "layer": [
    {
      "mark": {"type": "line", "opacity": 0},
      "encoding": {
        "x": {"field": "x", "type": "quantitative", "scale": {"domain": [301.8, 500], "nice": false, "zero": false},
              "axis": {"orient": "bottom", "values": [310,320,330,340,360,370,380,390,410,420,430,440,460,470,480,490], "tickSize": 10, "labels": false, "title": null, "domain": false}},
        "y": {"field": "y", "type": "quantitative", "scale": {"domain": [0, 1.01], "nice": false},
              "axis": {"ticks": false, "labels": false, "title": "Fluorescence intensity (A.U.)", "titleFontSize": 32, "titlePadding": 45}},
        "detail": {"field": "s"}
      }
    },
    {
      "mark": {"type": "line", "strokeWidth": 3, "clip": true},
      "encoding": {
        "x": {"field": "x", "type": "quantitative", "scale": {"domain": [301.8, 500], "nice": false, "zero": false},
              "axis": {"orient": "bottom", "values": [350, 400, 450, 500], "tickSize": 19, "labelFontSize": 24, "labelPadding": 14, "title": "Wavelength (nm)", "titleFontSize": 32, "titlePadding": 12}},
        "y": {"field": "y", "type": "quantitative", "scale": {"domain": [0, 1.01], "nice": false},
              "axis": {"ticks": false, "labels": false, "title": "Fluorescence intensity (A.U.)", "titleFontSize": 32, "titlePadding": 45}},
        "color": {"field": "s", "type": "nominal",
          "scale": {"domain": ["W7 DMPC","W7 DMPC/6,7-DiB","W15 DMPC","W15 DMPC/6,7-DiBr","W57 DMPC","W57 DMPC/6,7-DiBr","W102 DMPC","W102 DMPC/6,7-DiBr","W143 DMPC","W143 DMPC/6,7-DiBr","NATA DMPC","NATA DMPC/6,7-DiBr"],
                    "range": ["#ff1111","#ff1111","#22aaee","#22aaee","#22ee22","#22ee22","#6a1fd6","#6a1fd6","#ee33ee","#ee33ee","#8b0a0a","#8b0a0a"]},
          "legend": {"orient": "none", "legendX": 298, "legendY": 9, "title": null, "labelFontSize": 21.5, "symbolType": "M-1,0H5", "symbolSize": 169, "symbolStrokeWidth": 3.5, "labelOffset": 27, "strokeColor": "black", "fillColor": "white", "padding": 8, "rowPadding": 1.5, "labelLimit": 400}},
        "strokeDash": {"field": "s", "type": "nominal",
          "scale": {"domain": ["W7 DMPC","W7 DMPC/6,7-DiB","W15 DMPC","W15 DMPC/6,7-DiBr","W57 DMPC","W57 DMPC/6,7-DiBr","W102 DMPC","W102 DMPC/6,7-DiBr","W143 DMPC","W143 DMPC/6,7-DiBr","NATA DMPC","NATA DMPC/6,7-DiBr"],
                    "range": [[1,0],[9,6],[1,0],[9,6],[1,0],[9,6],[1,0],[9,6],[1,0],[9,6],[1,0],[9,6]]},
          "legend": {"orient": "none", "legendX": 298, "legendY": 9, "title": null, "labelFontSize": 21.5, "symbolType": "M-1,0H5", "symbolSize": 169, "symbolStrokeWidth": 3.5, "labelOffset": 27, "strokeColor": "black", "fillColor": "white", "padding": 8, "rowPadding": 1.5, "labelLimit": 400}}
      }
    }
  ]
},
{
  "width": 590, "height": 531,
  "data": {"name": "decay"},
  "resolve": {"axis": {"y": "independent"}},
  "layer": [
    {
      "mark": {"type": "line", "opacity": 0},
      "encoding": {
        "x": {"field": "t", "type": "quantitative", "scale": {"domain": [-0.18, 17.14], "nice": false, "zero": false},
              "axis": {"values": [0,2,4,6,8,10,12,14,16], "tickSize": 17, "labelFontSize": 24, "labelPadding": 18, "title": "Time (ns)", "titleFontSize": 32, "titlePadding": 7}},
        "y": {"field": "v", "type": "quantitative", "scale": {"type": "log", "domain": [0.0193, 1.052], "nice": false},
              "axis": {"orient": "left", "values": [0.02,0.03,0.04,0.05,0.06,0.07,0.08,0.09,0.2,0.3,0.4,0.5,0.6,0.7,0.8,0.9], "tickSize": 8, "labels": false, "title": null, "domain": false}},
        "detail": {"field": "s"}
      }
    },
    {
      "mark": {"type": "line", "strokeWidth": 3.5, "clip": true},
      "encoding": {
        "x": {"field": "t", "type": "quantitative", "scale": {"domain": [-0.18, 17.14], "nice": false, "zero": false},
              "axis": {"values": [0,2,4,6,8,10,12,14,16], "tickSize": 17, "labelFontSize": 24, "labelPadding": 18, "title": "Time (ns)", "titleFontSize": 32, "titlePadding": 7}},
        "y": {"field": "v", "type": "quantitative", "scale": {"type": "log", "domain": [0.0193, 1.052], "nice": false},
              "axis": {"orient": "left", "values": [0.1, 1], "tickSize": 17, "labelExpr": "datum.value == 1 ? '1' : ''", "labelFontSize": 26, "labelPadding": 0, "title": "Normalized emission", "titleFontSize": 32, "titlePadding": 19, "titleY": 246}},
        "color": {"field": "s", "type": "nominal",
          "scale": {"domain": ["W7 DMPC","W7 DMPC/6,7-DiB","W15 DMPC","W15 DMPC/6,7-DiBr","W57 DMPC","W57 DMPC/6,7-DiBr","W102 DMPC","W102 DMPC/6,7-DiBr","W143 DMPC","W143 DMPC/6,7-DiBr","NATA DMPC","NATA DMPC/6,7-DiBr"],
                    "range": ["#ee1111","#ee1111","#55bbee","#55bbee","#22ee22","#22ee22","#7711ee","#7711ee","#ee88dd","#ee88dd","#8b0a0a","#8b0a0a"]},
          "legend": null},
        "strokeDash": {"field": "s", "type": "nominal",
          "scale": {"domain": ["W7 DMPC","W7 DMPC/6,7-DiB","W15 DMPC","W15 DMPC/6,7-DiBr","W57 DMPC","W57 DMPC/6,7-DiBr","W102 DMPC","W102 DMPC/6,7-DiBr","W143 DMPC","W143 DMPC/6,7-DiBr","NATA DMPC","NATA DMPC/6,7-DiBr"],
                    "range": [[1,0],[5,5],[1,0],[5,5],[1,0],[5,5],[1,0],[5,5],[1,0],[5,5],[1,0],[5,5]]},
          "legend": null}
      }
    }
  ]
}
]
}
